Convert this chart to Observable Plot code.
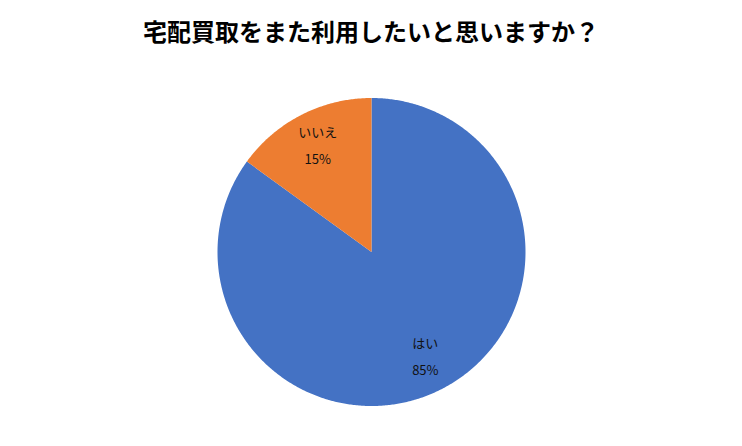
<!DOCTYPE html>
<html>
<head>
<meta charset="utf-8">
<script src="https://cdn.jsdelivr.net/npm/d3@7"></script>
<script src="https://cdn.jsdelivr.net/npm/@observablehq/plot@0.6"></script>
<style>
  html, body { margin: 0; padding: 0; background: #fff; }
  #title {
    width: 742px; height: 60px; box-sizing: border-box;
    padding-top: 16px; text-align: center;
    font-family: "Noto Sans CJK JP", sans-serif; font-weight: bold;
    font-size: 24px; line-height: 30px; color: #000;
  }
</style>
</head>
<body>
<div id="title">宅配買取をまた利用したいと思いますか？</div>
<div id="chart"></div>
<script>
const categories = ["はい", "いいえ"];
const values = [85, 15];
const labels = ["85%", "15%"];
const colors = ["#4472C4", "#ED7D31"];

const arcs = d3.pie().sort(null).value(d => d)(values);

// outline of each slice, in unit-circle coordinates
const outline = [];
arcs.forEach((a, i) => {
  outline.push({name: categories[i], x: 0, y: 0});
  const n = Math.max(2, Math.ceil((a.endAngle - a.startAngle) / (Math.PI / 360)));
  for (let k = 0; k <= n; k++) {
    const t = a.startAngle + (a.endAngle - a.startAngle) * k / n;
    outline.push({name: categories[i], x: Math.sin(t), y: Math.cos(t)});
  }
  outline.push({name: categories[i], x: 0, y: 0});
});

const labelR = 0.77;
const labelData = arcs.map((a, i) => {
  const m = (a.startAngle + a.endAngle) / 2;
  return {name: categories[i], pct: labels[i], x: labelR * Math.sin(m), y: labelR * Math.cos(m)};
});

const chart = Plot.plot({
  width: 742,
  height: 386,
  marginLeft: 217,
  marginRight: 217,
  marginTop: 37.5,
  marginBottom: 40.5,
  x: {domain: [-1, 1], axis: null},
  y: {domain: [-1, 1], axis: null},
  color: {domain: categories, range: colors},
  style: {fontFamily: "'Noto Sans CJK JP', sans-serif", background: "#fff"},
  marks: [
    Plot.line(outline, {x: "x", y: "y", z: "name", fill: "name", stroke: "none", curve: "linear"}),
    Plot.text(labelData, {x: "x", y: "y", text: "name", dy: -13.5, fontSize: 13, fill: "#111"}),
    Plot.text(labelData, {x: "x", y: "y", text: "pct", dy: 13.5, fontSize: 13, fill: "#111"})
  ]
});
document.getElementById("chart").appendChild(chart);
</script>
</body>
</html>
